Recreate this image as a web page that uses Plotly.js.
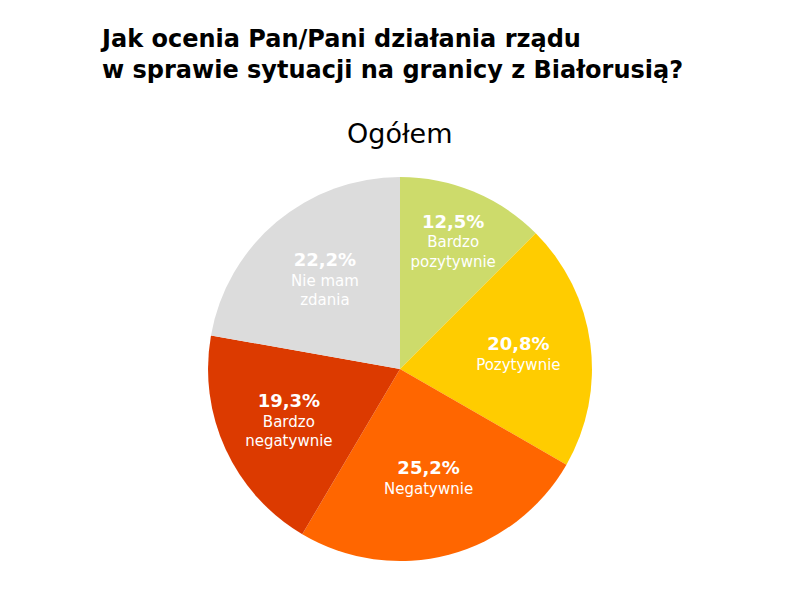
<!DOCTYPE html>
<html>
<head>
<meta charset="utf-8">
<script src="https://cdn.plot.ly/plotly-3.0.1.min.js"></script>
<style>html,body{margin:0;padding:0;background:#fff;}#chart{width:800px;height:593px;}</style>
</head>
<body>
<div id="chart"></div>
<script>
const categories = ["Bardzo<br>pozytywnie", "Pozytywnie", "Negatywnie", "Bardzo<br>negatywnie", "Nie mam<br>zdania"];
const values = [12.5, 20.8, 25.2, 19.3, 22.2];
const valueLabels = ["12,5%", "20,8%", "25,2%", "19,3%", "22,2%"];
const colors = ["#cddb6b", "#ffcc00", "#ff6600", "#dc3a00", "#dcdcdc"];

const FONT = "DejaVu Sans, Open Sans, sans-serif";

const trace = {
  type: "pie",
  values: values,
  labels: categories,
  text: valueLabels,
  sort: false,
  direction: "clockwise",
  rotation: 0,
  marker: {colors: colors, line: {width: 0}},
  textinfo: "text+label",
  texttemplate: "<span style='font-size:18px;font-weight:bold'>%{text}</span><br>%{label}",
  textposition: "inside",
  insidetextorientation: "horizontal",
  textfont: {family: FONT, size: 15, color: "#ffffff"},
  hoverinfo: "none",
  showlegend: false,
  domain: {x: [0.26, 0.74], y: [0.054, 0.7015]}
};

const layout = {
  width: 800, height: 593,
  margin: {l: 0, r: 0, t: 0, b: 0},
  paper_bgcolor: "#ffffff",
  showlegend: false,
  font: {family: FONT},
  annotations: [
    {text: "<b>Jak ocenia Pan/Pani działania rządu<br>w sprawie sytuacji na granicy z Białorusią?</b>",
     xref: "paper", yref: "paper", x: 0.122, y: 1 - 23/593, xanchor: "left", yanchor: "top",
     align: "left", showarrow: false, font: {family: FONT, size: 24, color: "#000"}},
    {text: "Ogółem", xref: "paper", yref: "paper", x: 0.5, y: 1 - 133/593,
     xanchor: "center", yanchor: "middle", showarrow: false,
     font: {family: FONT, size: 27, color: "#000"}}
  ]
};

Plotly.newPlot("chart", [trace], layout, {staticPlot: true, displayModeBar: false});
</script>
</body>
</html>
